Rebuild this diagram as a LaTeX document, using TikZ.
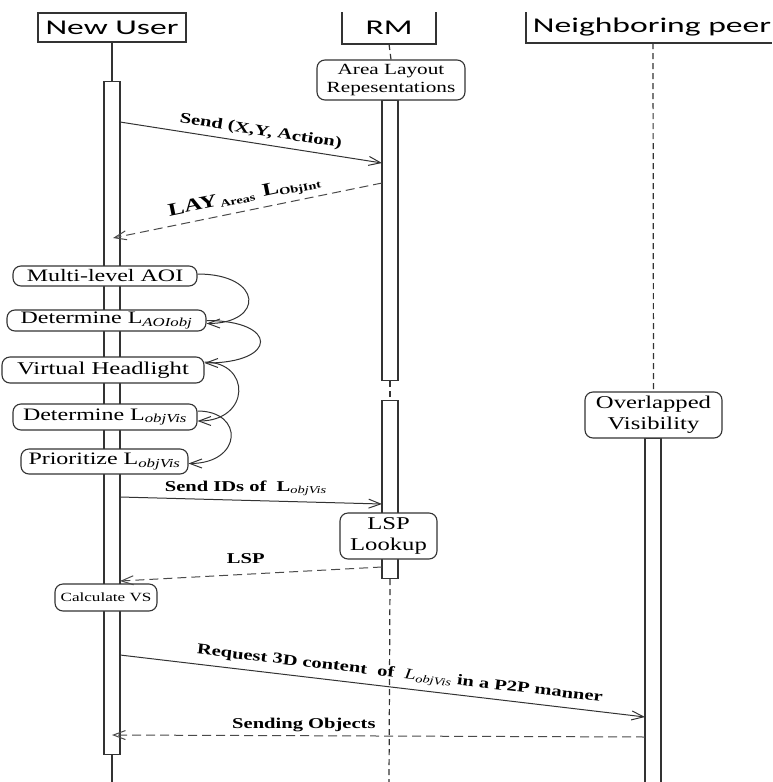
\documentclass[tikz,border=0pt]{standalone}
\usepackage{fontspec}
\setmainfont{Liberation Serif}[FakeStretch=1.37]
\newfontfamily\hdr{Carlito}[FakeStretch=1.6]
\usetikzlibrary{arrows.meta}
\definecolor{ln}{HTML}{333333}
\definecolor{dl}{HTML}{4A4A4A}
\tikzset{
 box/.style={draw=ln, line width=1.1pt, fill=white, rounded corners=8pt, inner sep=0pt, align=center, text=black},
 hbox/.style={inner sep=0pt, font=\hdr\fontsize{21}{24}\selectfont, text=black},
 bar/.style={draw=ln, line width=1.2pt, fill=white, minimum width=16pt, inner sep=0pt, anchor=north},
 solidlife/.style={draw=ln, line width=1.2pt},
 life/.style={draw=ln, line width=1.2pt, dash pattern=on 6pt off 4pt},
 msg/.style={draw=ln, line width=1pt, -{Straight Barb[length=12pt,width=9pt]}},
 ret/.style={msg, draw=dl, dash pattern=on 9pt off 5pt},
 selfc/.style={draw=ln, line width=1pt, -{Straight Barb[length=12pt,width=9pt]}},
 lbl/.style={font=\fontsize{15}{17}\selectfont\bfseries, text=black, inner sep=1pt},
 f17/.style={font=\fontsize{17.5}{20}\selectfont},
 f18/.style={font=\fontsize{18}{21}\selectfont},
}
\begin{document}
\begin{tikzpicture}[x=1pt, y=-1pt]
\useasboundingbox (0,0) rectangle (772,782);

% headers
\node[hbox, draw=ln, line width=1.2pt, minimum width=148pt, minimum height=29pt] (nu) at (112,27.5) {New User};
\node[hbox] (rm) at (389,28) {RM};
\draw[ln, line width=1.2pt] (342,12) -- (342,44) -- (436,44) -- (436,12);
\node[hbox] (np) at (652,27) {Neighboring peer};
\draw[ln, line width=1.2pt] (526,12) -- (526,43) -- (772,43);

% lifeline bars
\node[bar, minimum height=673pt] (nub) at (112,81) {};
\node[bar, minimum height=280pt] (rmb1) at (390,100) {};
\node[bar, minimum height=178pt] (rmb2) at (390,400) {};
\node[bar, minimum height=346pt] (npb) at (653,438) {};

% lifelines
\draw[solidlife] (nu.south) -- (nub.north);
\coordinate (nuend) at (112,782);
\draw[solidlife] (nub.south) -- (nuend);
\coordinate (rmtop) at (389,44);
\coordinate (rmend) at (389,782);
\coordinate (nptop) at (653,43);

% RM boxes
\node[box, font=\fontsize{15.5}{18}\selectfont, minimum width=148pt, minimum height=40pt] (alr) at (391,80) {Area Layout\\Repesentations};
\draw[life] (rmtop) -- (alr.north);
\draw[life] (rmb1.south) -- (rmb2.north);
\draw[life] (rmb2.south) -- (rmend);
\node[box, f18, minimum width=97pt, minimum height=46pt] (lsp) at (388.5,536) {LSP\\Lookup};

% neighbor
\node[box, f18, minimum width=137pt, minimum height=46pt] (ov) at (653.5,415) {Overlapped\\Visibility};
\draw[life] (nptop) -- (ov.north);

% New user activity boxes
\node[box, f17, minimum width=184pt, minimum height=20pt] (aoi) at (105,276) {Multi-level AOI};
\node[box, f17, minimum width=199pt, minimum height=21pt] (dao) at (106.5,320.5) {Determine L\textsubscript{\textit{AOIobj}}};
\node[box, f18, minimum width=202pt, minimum height=26pt] (vh) at (103,370) {Virtual Headlight};
\node[box, f17, minimum width=184pt, minimum height=26pt] (dov) at (105,417) {Determine L\textsubscript{\textit{objVis}}};
\node[box, f17, minimum width=167pt, minimum height=25pt] (pov) at (104.5,461.5) {Prioritize L\textsubscript{\textit{objVis}}};
\node[box, font=\fontsize{12.5}{14}\selectfont, minimum width=102pt, minimum height=27pt] (cvs) at (106,597.5) {Calculate VS};

% self calls
\draw[selfc] ([yshift=2pt]aoi.east) .. controls +(66,0) and +(58,0) .. ([yshift=-3pt]dao.east);
\draw[selfc] (dao.east) .. controls +(72,0) and +(74,0) .. ([yshift=7pt]vh.east);
\draw[selfc] ([yshift=8pt]vh.east) .. controls +(47,0) and +(53,0) .. ([yshift=-4pt]dov.east);
\draw[selfc] ([yshift=6pt]dov.east) .. controls +(47,0) and +(54,0) .. ([yshift=-2pt]pov.east);

% message endpoints
\coordinate (m1a) at (120,122);  \coordinate (m1b) at (382,163);
\coordinate (m2a) at (382,183);  \coordinate (m2b) at (113,238);
\coordinate (m3a) at (120,497);  \coordinate (m3b) at (382,504);
\coordinate (m4a) at (382,567);  \coordinate (m4b) at (120,581);
\coordinate (m5a) at (120,655);  \coordinate (m5b) at (645,717);
\coordinate (m6a) at (645,737);  \coordinate (m6b) at (112,735);

\draw[msg] (m1a) -- node[lbl, sloped, above=4pt, pos=0.53] {Send (X,Y, Action)} (m1b);
\draw[ret] (m2a) -- node[lbl, sloped, above=4pt, pos=0.5] {{\fontsize{18}{20}\selectfont LAY}\,\textsubscript{Areas}\, {\fontsize{18}{20}\selectfont L}\textsubscript{ObjInt}} (m2b);
\draw[msg] (m3a) -- node[lbl, above=3pt, pos=0.48] {Send IDs of\ \ L\textsubscript{\mdseries\itshape objVis}} (m3b);
\draw[ret] (m4a) -- node[lbl, above=9pt, pos=0.52] {LSP} (m4b);
\draw[msg] (m5a) -- node[lbl, sloped, above=4pt, pos=0.53] {Request 3D content\ \ of\ \ {\mdseries\itshape L\textsubscript{objVis}} in a P2P manner} (m5b);
\draw[ret] (m6a) -- node[lbl, above=2pt, pos=0.64] {Sending Objects} (m6b);
\end{tikzpicture}
\end{document}
